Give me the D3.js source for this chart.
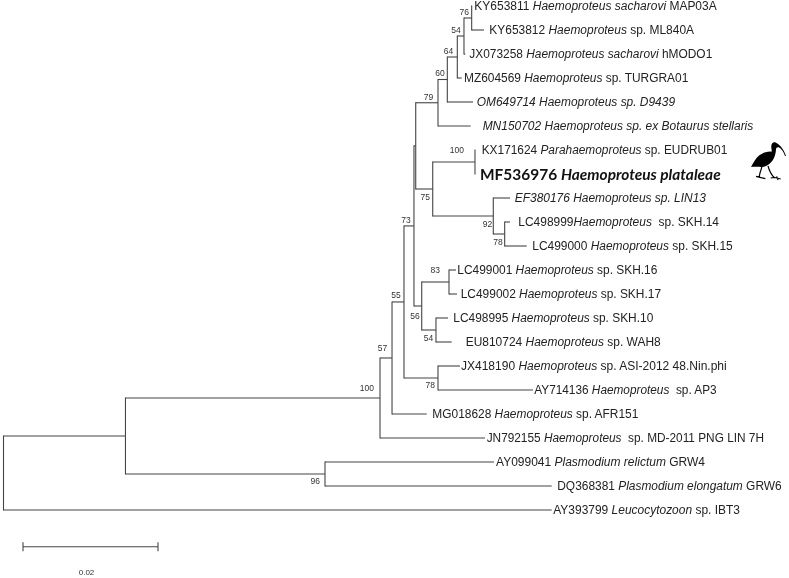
<html>
<head>
<meta charset="utf-8">
<style>
html, body { margin: 0; padding: 0; background: #fff; }
svg { display: block; filter: blur(0.3px); }
text { font-family: "Liberation Sans", Arial, sans-serif; fill: #222; white-space: pre; }
.branch { stroke: #444; stroke-width: 1.1; fill: none; }
.support { font-size: 8.5px; fill: #333; }
.tip { font-size: 12px; }
.bold { font-family: Lato, sans-serif; font-size: 15.4px; font-weight: 700; fill: #111; }
</style>
</head>
<body>
<div id="chart"></div>
<script src="https://d3js.org/d3.v7.min.js"></script>
<script>
// tips, top to bottom
var accessions = ["KY653811", "KY653812", "JX073258", "MZ604569", "OM649714", "MN150702", "KX171624", "MF536976",
    "EF380176", "LC498999", "LC499000", "LC499001", "LC499002", "LC498995", "EU810724", "JX418190",
    "AY714136", "MG018628", "JN792155", "AY099041", "DQ368381", "AY393799"];
var species = ["Haemoproteus sacharovi", "Haemoproteus", "Haemoproteus sacharovi", "Haemoproteus", "Haemoproteus sp. D9439",
    "Haemoproteus sp. ex Botaurus stellaris", "Parahaemoproteus", "Haemoproteus plataleae",
    "Haemoproteus sp. LIN13", "Haemoproteus ", "Haemoproteus", "Haemoproteus", "Haemoproteus", "Haemoproteus", "Haemoproteus", "Haemoproteus",
    "Haemoproteus ", "Haemoproteus", "Haemoproteus ", "Plasmodium relictum", "Plasmodium elongatum", "Leucocytozoon"];
var strains = ["MAP03A", "sp. ML840A", "hMODO1", "sp. TURGRA01", "", "", "sp. EUDRUB01", "",
    "", "sp. SKH.14", "sp. SKH.15", "sp. SKH.16", "sp. SKH.17", "sp. SKH.10", "sp. WAH8", "sp. ASI-2012 48.Nin.phi",
    "sp. AP3", "sp. AFR151", "sp. MD-2011 PNG LIN 7H", "GRW4", "GRW6", "sp. IBT3"];
var tipParents = ["K", "K", "J", "I", "H", "G", "M", "M", "P", "Q", "Q", "S", "S", "T", "T", "U", "U", "C", "B", "V", "V", "root"];
var tipDepths = [0.06941, 0.07119, 0.06841, 0.06788, 0.06956, 0.06921, 0.06985, 0.06985,
    0.07504, 0.07504, 0.07751, 0.06704, 0.06719, 0.06585, 0.06640, 0.06763,
    0.07844, 0.06270, 0.07133, 0.07267, 0.08121, 0.08121];

// internal nodes
var nodeNames = ["root", "A", "B", "C", "D", "E", "F", "G", "H", "I", "J", "K", "L", "M", "P", "Q", "R", "S", "T", "U", "V"];
var nodeParents = [null, "root", "A", "B", "C", "D", "E", "F", "G", "H", "I", "J", "F", "L", "L", "P", "E", "R", "R", "D", "A"];
var nodeDepths = [0, 0.01807, 0.05578, 0.05756, 0.05933, 0.06081, 0.06107, 0.06437, 0.06575, 0.06723, 0.06822, 0.06936,
    0.06359, 0.06985, 0.07256, 0.07425, 0.06196, 0.06600, 0.06407, 0.06437, 0.04763];
var nodeSupport = ["", "", "100", "57", "55", "73", "", "79", "60", "64", "54", "76", "75", "100", "92", "78", "56", "83", "54", "78", "96"];

var scaleLength = 0.02;

var width = 789, height = 578;

// hand placement of labels, same order as the arrays above
var labelGaps = [2.3, 5.3, 4, 2.3, 3.7, 12, 6.7, 5, 4.7, 8.3, 5.6, 1.3, 3.7, 5.3, 14, 1, 1.3, 5.6, 1.7, 2, 5.6, 1.6];
var labelWidths = [242.4, 204.7, 243, 224.3, 198.3, 270.6, 245.6, 240.7, 191.3, 200.7, 200.4, 200, 200.3, 200, 195, 265.7, 182.4, 206, 277.3, 209, 224.4, 186.7];
var supportOffsets = [[0, 0], [0, 0], [-6, -7], [-4.7, -7], [-3.3, -3.7], [-3.3, -3], [0, 0], [-4.7, -2.8], [-2.6, -3.5], [-4, -3], [-3.3, -3], [-2.7, -3.2],
    [-2.7, 11], [-11, -9.3], [-1, 11.3], [-2, 11], [-2, 12.7], [-9, -9.3], [-2.7, 10.7], [-3, 10.3], [-5, 10.3]];

var svg = d3.select("#chart").append("svg").attr("width", width).attr("height", height);

var x = d3.scaleLinear().domain([0, scaleLength]).range([3.5, 138.5]);
var y = d3.scaleLinear().domain([0, accessions.length - 1]).range([6, 510]);

var rows = nodeNames.map(function (n, i) {
    return { id: n, parent: nodeParents[i], depth_: nodeDepths[i], support: nodeSupport[i], offset: supportOffsets[i] };
}).concat(accessions.map(function (a, i) {
    return { id: a, parent: tipParents[i], depth_: tipDepths[i], tip: i };
}));

var root = d3.stratify().id(function (d) { return d.id; }).parentId(function (d) { return d.parent; })(rows);

// a node sits halfway between its outermost children
root.eachAfter(function (d) {
    d.px = x(d.data.depth_);
    if (d.children) {
        var ext = d3.extent(d.children, function (c) { return c.py; });
        d.py = (ext[0] + ext[1]) / 2;
        d.ext = ext;
    } else {
        d.py = y(d.data.tip);
    }
});

var g = svg.append("g");

g.selectAll(".stem").data(root.descendants().filter(function (d) { return d.parent; })).enter().append("line")
    .attr("class", "branch stem")
    .attr("x1", function (d) { return d.parent.px; })
    .attr("x2", function (d) { return d.px; })
    .attr("y1", function (d) { return d.py; })
    .attr("y2", function (d) { return d.py; });

g.selectAll(".fork").data(root.descendants().filter(function (d) { return d.children; })).enter().append("line")
    .attr("class", "branch fork")
    .attr("x1", function (d) { return d.px; })
    .attr("x2", function (d) { return d.px; })
    .attr("y1", function (d) { return d.ext[0] - 0.5; })
    .attr("y2", function (d) { return d.ext[1] + 0.5; });

g.selectAll(".support").data(root.descendants().filter(function (d) { return d.data.support; })).enter().append("text")
    .attr("class", "support")
    .attr("text-anchor", "end")
    .attr("x", function (d) { return d.px + d.data.offset[0]; })
    .attr("y", function (d) { return d.py + d.data.offset[1]; })
    .text(function (d) { return d.data.support; });

// tip labels
var tips = root.leaves().sort(function (a, b) { return a.data.tip - b.data.tip; });
var allItalic = ["OM649714", "MN150702", "EF380176"];

var labels = g.selectAll(".tip").data(tips).enter().append("text")
    .attr("class", function (d) { return d.data.id == "MF536976" ? "tip bold" : "tip"; })
    .attr("x", function (d) { return d.px + labelGaps[d.data.tip]; })
    .attr("y", function (d) { return d.py + (d.data.id == "MF536976" ? 5.5 : 4); })
    .attr("textLength", function (d) { return labelWidths[d.data.tip]; })
    .attr("lengthAdjust", "spacingAndGlyphs");

labels.append("tspan")
    .style("font-style", function (d) { return allItalic.indexOf(d.data.id) >= 0 ? "italic" : "normal"; })
    .text(function (d) { return d.data.id == "LC498999" ? d.data.id : d.data.id + " "; });
labels.append("tspan")
    .style("font-style", "italic")
    .text(function (d) { return strains[d.data.tip] ? species[d.data.tip] + " " : species[d.data.tip]; });
labels.append("tspan")
    .text(function (d) { return strains[d.data.tip]; });

// scale bar
var barLeft = 23, barY = 546.7, barLen = x(scaleLength) - x(0);
var bar = svg.append("g").attr("transform", "translate(" + barLeft + "," + barY + ")");
bar.append("line").attr("class", "branch").attr("x2", barLen);
bar.append("line").attr("class", "branch").attr("y1", -4.5).attr("y2", 4.5);
bar.append("line").attr("class", "branch").attr("x1", barLen).attr("x2", barLen).attr("y1", -4.5).attr("y2", 4.5);
bar.append("text").attr("class", "support").attr("x", barLen / 2 - 4).attr("y", 28.5)
    .attr("text-anchor", "middle").style("font-size", "8px").text(scaleLength);

// ibis silhouette
var bird = svg.append("g").attr("transform", "translate(750,138) scale(0.3333)");
bird.append("path").attr("fill", "#000")
    .attr("d", "M108,54 C103,38 92,20 78,14 C70,11 65,16 64,23 C63,30 66,36 65,41 C52,40 38,44 28,52 C18,60 10,74 3,87 C12,85 20,87 28,86 C44,90 56,82 66,70 C74,60 78,44 78,34 C78,29 82,27 86,28 C94,32 101,42 105,54 Z");
bird.append("path").attr("fill", "none").attr("stroke", "#000").attr("stroke-width", 3.5)
    .attr("d", "M36,86 L30,105 L27,118 M18,115 L46,122 M54,84 C58,98 64,110 72,118 L92,123 M62,120 L74,118 M80,115 L84,126");
</script>
</body>
</html>
